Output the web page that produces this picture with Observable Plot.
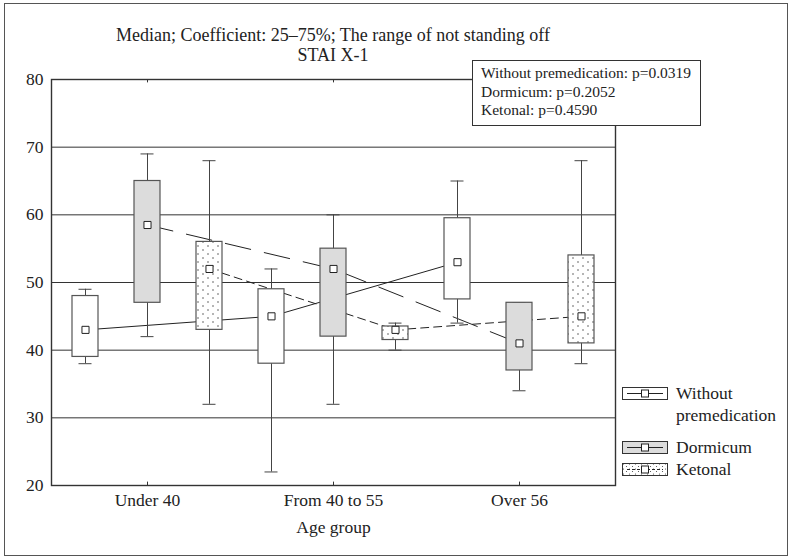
<!DOCTYPE html>
<html>
<head>
<meta charset="utf-8">
<script src="https://cdn.jsdelivr.net/npm/d3@7"></script>
<script src="https://cdn.jsdelivr.net/npm/@observablehq/plot@0.6"></script>
<style>
  body { margin: 0; background: #fff; }
  #wrap { position: relative; width: 792px; height: 560px; font-family: "Liberation Serif", "Times New Roman", serif; color: #222; overflow: hidden; }
  #wrap svg { position: absolute; left: 0; top: 0; }
  #border { position: absolute; left: 4px; top: 3px; width: 784px; height: 553px; border: 1.5px solid #555; box-sizing: border-box; pointer-events: none; }
  #title { position: absolute; left: 51px; width: 564px; top: 26px; text-align: center; font-size: 18px; line-height: 19.5px; }
  #stats { position: absolute; left: 472px; top: 60px; width: 229px; height: 66px; box-sizing: border-box; border: 1.2px solid #333; background: #fff; padding: 3px 0 0 8px; font-size: 15.5px; line-height: 18.6px; white-space: nowrap; }
  #legend { position: absolute; left: 622px; top: 382px; font-size: 17.5px; }
  .item { position: absolute; left: 0; white-space: nowrap; }
  .item svg { position: absolute; left: 0; }
  .item .lab { position: absolute; left: 54px; line-height: 22px; }
</style>
</head>
<body>
<div id="wrap"></div>
<script>
// ---- data ----
const groups = ["Under 40", "From 40 to 55", "Over 56"];
const series = ["Without premedication", "Dormicum", "Ketonal"];

const withoutMin    = [38, 22, 44];
const withoutQ1     = [39, 38, 47.5];
const withoutMedian = [43, 45, 53];
const withoutQ3     = [48, 49, 59.5];
const withoutMax    = [49, 52, 65];

const dormicumMin    = [42, 32, 34];
const dormicumQ1     = [47, 42, 37];
const dormicumMedian = [58.5, 52, 41];
const dormicumQ3     = [65, 55, 47];
const dormicumMax    = [69, 60, 47];

const ketonalMin    = [32, 40, 38];
const ketonalQ1     = [43, 41.5, 41];
const ketonalMedian = [52, 43, 45];
const ketonalQ3     = [56, 43.5, 54];
const ketonalMax    = [68, 44, 68];

const yTicks = [20, 30, 40, 50, 60, 70, 80];
const pValues = ["0.0319", "0.2052", "0.4590"];
const titleLines = ["Median; Coefficient: 25–75%; The range of not standing off", "STAI X-1"];
const xLabel = "Age group";

// ---- build table ----
const stats = [
  [withoutMin, withoutQ1, withoutMedian, withoutQ3, withoutMax],
  [dormicumMin, dormicumQ1, dormicumMedian, dormicumQ3, dormicumMax],
  [ketonalMin, ketonalQ1, ketonalMedian, ketonalQ3, ketonalMax]
];
const rows = [];
series.forEach((s, si) => {
  groups.forEach((g, gi) => {
    const [mn, q1, md, q3, mx] = stats[si].map(a => a[gi]);
    rows.push({group: g, series: s, key: g + "|" + s, min: mn, q1, median: md, q3, max: mx});
  });
});
const keys = groups.flatMap(g => series.map(s => g + "|" + s));
const midKeys = groups.map(g => g + "|" + series[1]);
const dashes = ["none", "26,14", "8,5"];
const fills = ["#ffffff", "#dcdcdc", "url(#ketonalDots)"];

const lineMarks = series.map((s, si) =>
  Plot.line(rows.filter(d => d.series === s), {x: "key", y: "median", stroke: "#222", strokeWidth: 1, strokeDasharray: dashes[si]})
);

const chart = Plot.plot({
  width: 792,
  height: 560,
  marginLeft: 51,
  marginRight: 177,
  marginTop: 79,
  marginBottom: 75,
  style: {fontFamily: "'Liberation Serif', 'Times New Roman', serif", fontSize: "17.5px", color: "#222", background: "transparent"},
  x: {type: "band", domain: keys, paddingInner: 0.585, paddingOuter: 0.2925,
      ticks: midKeys, tickFormat: k => k.split("|")[0], tickSize: 0, tickPadding: 8,
      label: xLabel, labelAnchor: "center", labelOffset: 47},
  y: {domain: [20, 80], ticks: yTicks, tickSize: 0, tickPadding: 8, label: null},
  color: {type: "ordinal", domain: series, range: fills},
  marks: [
    Plot.ruleY(yTicks.slice(1, -1), {stroke: "#333", strokeWidth: 1}),
    ...lineMarks,
    Plot.ruleX(rows, {x: "key", y1: "min", y2: "max", stroke: "#444", strokeWidth: 1}),
    Plot.tickY(rows, {x: "key", y: "min", stroke: "#444", strokeWidth: 1, insetLeft: 6.5, insetRight: 6.5}),
    Plot.tickY(rows, {x: "key", y: "max", stroke: "#444", strokeWidth: 1, insetLeft: 6.5, insetRight: 6.5}),
    Plot.barY(rows, {x: "key", y1: "q1", y2: "q3", fill: "series", stroke: "#555", strokeWidth: 1.2}),
    Plot.dot(rows, {x: "key", y: "median", symbol: "square", r: 4, fill: "white", stroke: "#222", strokeWidth: 1}),
    Plot.ruleX(midKeys, {x: d => d, y1: 20, y2: 20.5, stroke: "#333"}),
    Plot.ruleX(midKeys, {x: d => d, y1: 79.5, y2: 80, stroke: "#333"}),
    Plot.frame({stroke: "#333", strokeWidth: 1.4})
  ]
});

d3.select(chart).insert("defs", ":first-child").html(
  '<pattern id="ketonalDots" width="10" height="8" patternUnits="userSpaceOnUse">' +
  '<rect width="10" height="8" fill="#fff"/>' +
  '<circle cx="3" cy="2" r="0.7" fill="#333"/>' +
  '<circle cx="8" cy="6" r="0.7" fill="#333"/></pattern>'
);

const wrap = document.getElementById("wrap");
wrap.appendChild(chart);

// title
const title = document.createElement("div");
title.id = "title";
title.innerHTML = titleLines.join("<br>");
wrap.appendChild(title);

// p-value box
const box = document.createElement("div");
box.id = "stats";
box.innerHTML = series.map((s, i) => `${s}: p=${pValues[i]}`).join("<br>");
wrap.appendChild(box);

// legend
const legend = document.createElement("div");
legend.id = "legend";
const legendTops = [0, 54, 76];
const legendLabels = [["Without", "premedication"], ["Dormicum"], ["Ketonal"]];
series.forEach((s, i) => {
  const it = document.createElement("div");
  it.className = "item";
  it.style.top = legendTops[i] + "px";
  const dash = i === 2 ? ` stroke-dasharray="3,2"` : "";
  it.innerHTML =
    `<svg width="48" height="14" style="top:5px">` +
    `<defs><pattern id="legDots" width="6" height="5" patternUnits="userSpaceOnUse"><rect width="6" height="5" fill="#fff"/><circle cx="1.5" cy="1" r="0.55" fill="#444"/><circle cx="4.5" cy="3.5" r="0.55" fill="#444"/></pattern></defs>` +
    `<rect x="0.5" y="0.5" width="45" height="12" fill="${i === 2 ? 'url(#legDots)' : fills[i]}" stroke="#333"/>` +
    `<line x1="5" y1="6.5" x2="41" y2="6.5" stroke="#222"${dash}/>` +
    `<rect x="19.5" y="3" width="7" height="7" fill="#fff" stroke="#222"/>` +
    `</svg>` +
    `<div class="lab">${legendLabels[i].join("<br>")}</div>`;
  legend.appendChild(it);
});
wrap.appendChild(legend);

const border = document.createElement("div");
border.id = "border";
wrap.appendChild(border);
</script>
</body>
</html>
